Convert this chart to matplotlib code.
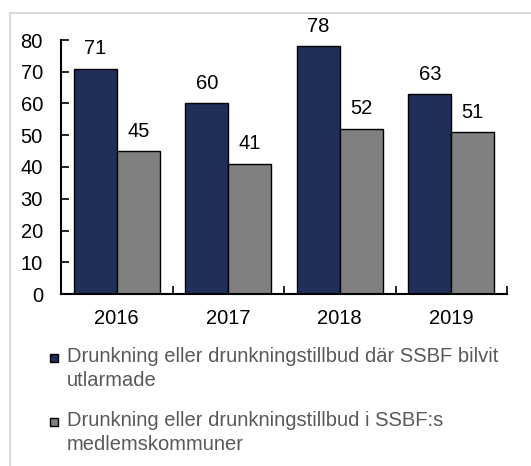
import matplotlib
matplotlib.use("Agg")
import matplotlib.pyplot as plt
from matplotlib.patches import Rectangle
from matplotlib.lines import Line2D
import numpy as np

plt.rcParams['font.family'] = ['Liberation Sans', 'DejaVu Sans']

years = ["2016", "2017", "2018", "2019"]
series_names = ["Drunkning eller drunkningstillbud där SSBF bilvit\nutlarmade",
                "Drunkning eller drunkningstillbud i SSBF:s\nmedlemskommuner"]
alarmed = [71, 60, 78, 63]
members = [45, 41, 52, 51]
colors = ["#1F2F59", "#808080"]

W, H = 531, 466
fig = plt.figure(figsize=(W/100, H/100), dpi=100)

def px(x, y):
    return x / W, 1 - y / H

l, t = px(61, 40)
r, b = px(507, 294)
ax = fig.add_axes([l, b, r - l, t - b])

FS = 14.5
x = np.arange(len(years))
bw = 0.385
for i, (vals, c) in enumerate(zip([alarmed, members], colors)):
    offs = (i - 0.5) * bw
    bars = ax.bar(x + offs, vals, bw, color=c, edgecolor="black", linewidth=1.0, zorder=2)
    for bar, v in zip(bars, vals):
        ax.annotate(str(v), (bar.get_x() + bar.get_width()/2, v), xytext=(0, 7.5),
                    textcoords="offset points", ha="center", va="bottom", fontsize=FS)

ax.set_xlim(-0.5, len(years) - 0.5)
ax.set_ylim(0, 80)
ax.set_yticks(range(0, 81, 10))
ax.set_xticks(x)
ax.set_xticklabels(years)
ax.set_xticks(np.arange(len(years)) + 0.5, minor=True)
ax.tick_params(axis='x', which='major', length=0, labelsize=FS, pad=11)
ax.tick_params(axis='x', which='minor', direction='in', length=6, width=1.2)
ax.tick_params(axis='y', direction='in', length=6, width=1.2, labelsize=FS, pad=13)
for s in ['top', 'right']:
    ax.spines[s].set_visible(False)
for s in ['left', 'bottom']:
    ax.spines[s].set_linewidth(1.5)
ax.patch.set_alpha(0)

# outer frame
fig.add_artist(Line2D([10/W, 10/W], [0, 1 - 13/H], color="#D9D9D9", lw=1.5, transform=fig.transFigure))
fig.add_artist(Line2D([10/W, 1], [1 - 13/H, 1 - 13/H], color="#D9D9D9", lw=1.5, transform=fig.transFigure))

# legend
ys = [358, 422]
for name, c, yc in zip(series_names, colors, ys):
    x0, y0 = px(50, yc + 4)
    fig.add_artist(Rectangle((x0, y0), 8/W, 8/H, facecolor=c, edgecolor="black",
                             linewidth=1.0, transform=fig.transFigure))
    tx, ty = px(67, yc - 11)
    fig.text(tx, ty, name, fontsize=14.5, color="#595959", ha="left", va="top", linespacing=1.3)

fig.savefig("out.png", dpi=100)
